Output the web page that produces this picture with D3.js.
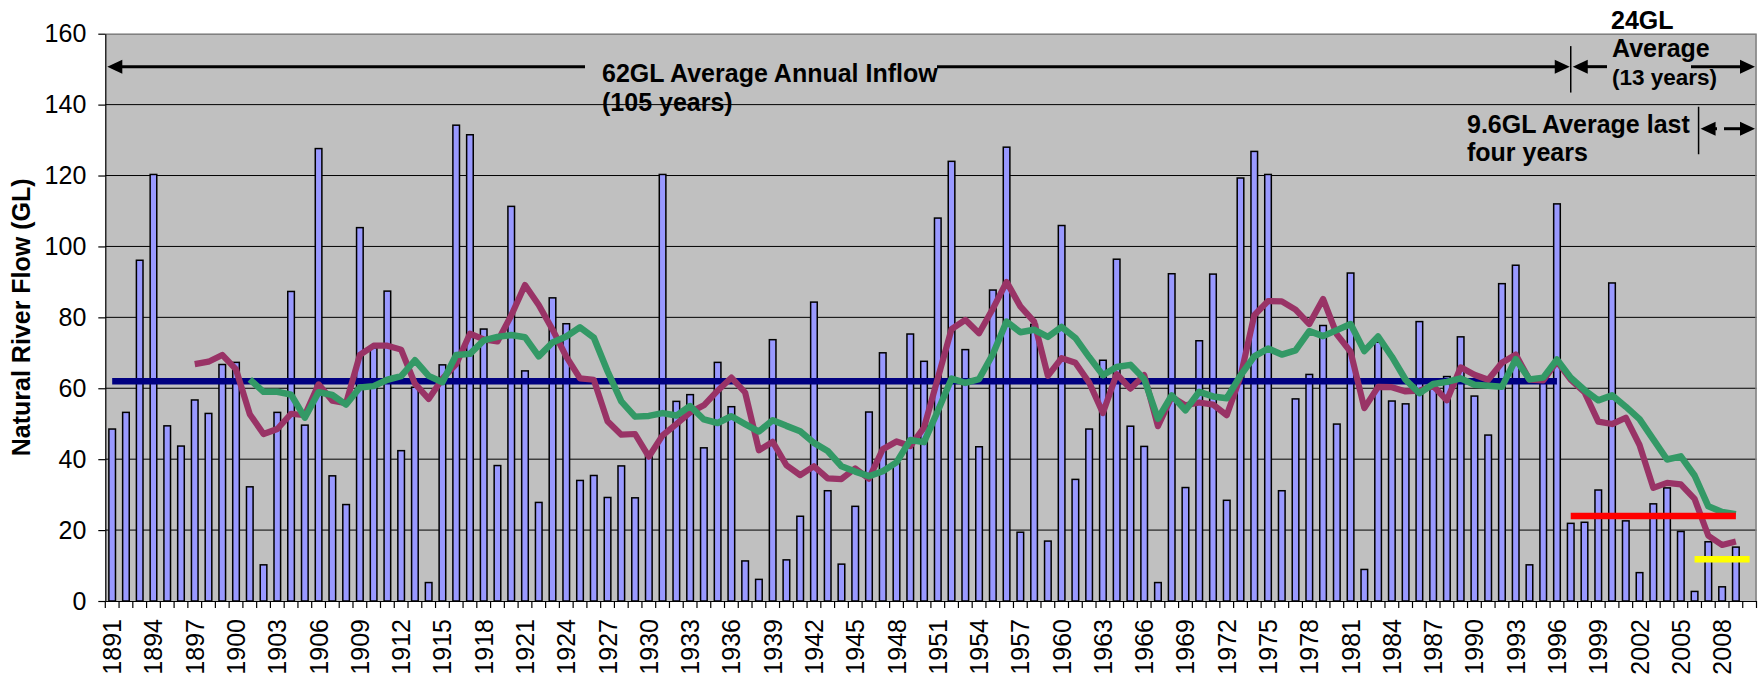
<!DOCTYPE html>
<html>
<head>
<meta charset="utf-8">
<script src="https://cdn.jsdelivr.net/npm/d3@7"></script>
<style>
  body { margin: 0; background: #fff; }
  svg { display: block; font-family: "Liberation Sans", Arial, sans-serif; }
</style>
</head>
<body>
<svg width="1762" height="676"></svg>
<script>

// categories: one slot per year, 2010 is an empty slot at the end
var firstYear = 1891, lastYear = 2010;
var years = d3.range(firstYear, lastYear + 1);

var tickYears = [1891, 1894, 1897, 1900, 1903, 1906, 1909, 1912, 1915, 1918,
                 1921, 1924, 1927, 1930, 1933, 1936, 1939, 1942, 1945, 1948,
                 1951, 1954, 1957, 1960, 1963, 1966, 1969, 1972, 1975, 1978,
                 1981, 1984, 1987, 1990, 1993, 1996, 1999, 2002, 2005, 2008];
var yTicks = [0, 20, 40, 60, 80, 100, 120, 140, 160];

// annual natural river flow (GL), 1891 - 2009
var flowStart = 1891;
var flow = [
  48.5, 53.2, 96.1, 120.3, 49.4, 43.7, 56.7, 52.9, 66.7, 67.3,
  32.2, 10.2, 53.2, 87.3, 49.6, 127.6, 35.3, 27.2, 105.3, 71.4,
  87.4, 42.4, 60.3, 5.2, 66.6, 134.2, 131.5, 76.7, 38.2, 111.3,
  64.9, 27.8, 85.5, 78.2, 34.0, 35.4, 29.2, 38.1, 29.1, 40.9,
  120.3, 56.3, 58.2, 43.2, 67.3, 54.8, 11.3, 6.1, 73.7, 11.6,
  23.9, 84.3, 31.1, 10.4, 26.7, 53.3, 70.0, 39.0, 75.3, 67.6,
  108.0, 124.0, 70.9, 43.5, 87.7, 128.0, 19.4, 78.0, 16.9, 105.9,
  34.3, 48.5, 67.9, 96.4, 49.3, 43.6, 5.2, 92.3, 32.0, 73.4,
  92.2, 28.4, 119.3, 126.8, 120.3, 31.1, 57.0, 63.9, 77.7, 49.9,
  92.5, 8.9, 73.0, 56.4, 55.6, 78.8, 60.0, 63.3, 74.5, 57.8,
  46.8, 89.5, 94.7, 10.2, 62.0, 112.0, 21.9, 22.2, 31.3, 89.7,
  22.6, 8.0, 27.4, 31.9, 19.6, 2.7, 16.7, 4.0, 15.2
];

// purple line (7 yr), 1897 - 2009
var ma7Start = 1897;
var ma7 = [
  66.8, 67.5, 69.4, 65.3,
  52.7, 47.1, 48.5, 52.8, 52.4, 61.1, 56.5, 55.8, 69.4, 72.0,
  72.0, 70.9, 61.3, 57.0, 62.7, 66.8, 75.4, 73.8, 73.2, 80.5,
  89.1, 83.5, 76.6, 68.9, 62.8, 62.4, 50.7, 46.9, 47.1, 40.7,
  46.7, 49.9, 53.2, 55.2, 59.3, 63.0, 58.8, 42.5, 44.9, 38.3,
  35.5, 38.0, 34.6, 34.4, 37.4, 34.5, 42.8, 45.0, 43.7, 48.9,
  62.8, 76.7, 79.3, 75.5, 82.4, 90.0, 83.1, 78.8, 63.5, 68.5,
  67.2, 61.6, 53.0, 64.0, 59.9, 63.7, 49.3, 57.6, 55.2, 56.0,
  55.4, 52.4, 63.3, 80.6, 84.6, 84.5, 82.2, 78.1, 85.2, 75.2,
  70.3, 54.4, 60.4, 60.3, 59.1, 59.3, 60.7, 56.6, 65.9, 63.8,
  62.4, 67.2, 69.5, 62.4, 62.2, 67.6, 62.4, 58.9, 50.6, 49.9,
  51.7, 44.0, 31.9, 33.3, 32.9, 28.8, 18.4, 15.8, 16.8
];

// green line (11 yr), 1901 - 2009
var ma11Start = 1901;
var ma11 = [
  62.5, 59.0, 59.0, 58.2, 51.7, 58.9, 58.1, 55.4, 60.2, 60.6,
  62.4, 63.4, 67.9, 63.5, 61.7, 69.4, 69.7, 73.5, 74.5, 75.0,
  74.4, 69.0, 72.9, 74.6, 77.2, 74.3, 64.8, 56.3, 52.0, 52.2,
  53.0, 52.3, 55.0, 51.2, 50.2, 52.1, 49.9, 47.8, 51.0, 49.4,
  47.9, 44.6, 42.3, 38.0, 36.5, 35.2, 36.6, 39.1, 45.4, 44.8,
  53.6, 62.7, 61.5, 62.6, 69.6, 78.8, 75.8, 76.5, 74.5, 77.3,
  74.2, 68.8, 63.7, 66.0, 66.6, 62.6, 51.4, 58.0, 53.8, 59.0,
  57.7, 57.2, 63.6, 69.0, 71.2, 69.5, 70.7, 76.1, 74.7, 76.4,
  78.1, 70.5, 74.6, 68.9, 62.4, 58.6, 61.2, 61.8, 62.8, 61.0,
  60.7, 60.4, 68.2, 62.5, 63.0, 68.1, 63.0, 59.5, 56.6, 58.0,
  54.8, 51.3, 45.6, 39.9, 40.8, 35.4, 26.7, 25.1, 24.5
];

// flat average lines: [year, value] end points
var longAvg = [[1891, 62], [1996, 62]];
var avg13 = [[1997, 24], [2009, 24]];
var avg4 = [[2006, 11.8], [2010, 11.8]];

function toPoints(start, arr) {
  return arr.map(function(v, i) { return [start + i, v]; });
}

var svg = d3.select("svg"),
    margin = {top: 33.7, right: 5.5, bottom: 75, left: 105.3},
    width = +svg.attr("width") - margin.left - margin.right,
    height = +svg.attr("height") - margin.top - margin.bottom,
    g = svg.append("g").attr("transform", "translate(" + margin.left + "," + margin.top + ")");

// set the ranges
var x = d3.scaleBand()
    .domain(years)
    .range([0, width])
    .paddingInner(0.52)
    .paddingOuter(0.26);

var y = d3.scaleLinear()
    .domain([0, 160])
    .range([height, 0]);

function xc(yr) { return x(yr) + x.bandwidth() / 2; }

// plot background
g.append("rect")
    .attr("width", width)
    .attr("height", height)
    .attr("fill", "#c0c0c0");

// gridlines
g.append("g")
  .selectAll("line")
  .data(yTicks.filter(function(d) { return d > 0 && d < 160; }))
  .enter().append("line")
    .attr("x1", 0)
    .attr("x2", width)
    .attr("y1", function(d) { return y(d); })
    .attr("y2", function(d) { return y(d); })
    .attr("stroke", "#000")
    .attr("stroke-width", 1);

// border top/right
g.append("path")
    .attr("d", "M0,0.5H" + (width - 0.5) + "V" + height)
    .attr("fill", "none")
    .attr("stroke", "#808080")
    .attr("stroke-width", 1.5);

// bars
g.append("g")
  .selectAll("rect")
  .data(toPoints(flowStart, flow))
  .enter().append("rect")
    .attr("x", function(d) { return x(d[0]); })
    .attr("y", function(d) { return y(d[1]); })
    .attr("width", x.bandwidth())
    .attr("height", function(d) { return height - y(d[1]); })
    .attr("fill", "#9999ff")
    .attr("stroke", "#000")
    .attr("stroke-width", 1.5);

// define the line
var line = d3.line()
    .x(function(d) { return xc(d[0]); })
    .y(function(d) { return y(d[1]); });

function drawLine(data, color, w) {
  g.append("path")
    .datum(data)
    .attr("fill", "none")
    .attr("stroke", color)
    .attr("stroke-linejoin", "round")
    .attr("stroke-width", w)
    .attr("d", line);
}

drawLine(longAvg, "#000080", 6.5);
drawLine(toPoints(ma7Start, ma7), "#993366", 6.2);
drawLine(toPoints(ma11Start, ma11), "#339966", 6.5);
drawLine(avg13, "#ff0000", 6.5);
drawLine(avg4, "#ffff00", 6.5);

// Add the Y Axis
var yAxis = g.append("g")
    .call(d3.axisLeft(y).tickValues(yTicks).tickSize(7).tickSizeOuter(0).tickPadding(12));
yAxis.select(".domain").attr("stroke", "#000").attr("stroke-width", 1.2);
yAxis.selectAll("line").attr("stroke", "#000").attr("stroke-width", 1.2);
yAxis.selectAll("text")
    .attr("font-size", 25)
    .attr("font-family", "Liberation Sans, Arial, sans-serif")
    .attr("fill", "#000");

// Add the X Axis
var xAxis = g.append("g")
    .attr("transform", "translate(0," + height + ")")
    .call(d3.axisBottom(x).tickValues(tickYears).tickSize(0).tickSizeOuter(0));
xAxis.select(".domain").attr("stroke", "#000").attr("stroke-width", 1.2);
xAxis.selectAll("text")
    .attr("font-size", 25)
    .attr("font-family", "Liberation Sans, Arial, sans-serif")
    .attr("fill", "#000")
    .attr("transform", "rotate(-90)")
    .attr("text-anchor", "end")
    .attr("x", -18)
    .attr("y", 0)
    .attr("dy", "0.36em");

// tick marks between categories
var bounds = years.map(function(yr) { return x(yr) - x.step() * x.paddingInner() / 2; });
bounds.push(width);
xAxis.append("g")
  .selectAll("line")
  .data(bounds)
  .enter().append("line")
    .attr("x1", function(d) { return d; })
    .attr("x2", function(d) { return d; })
    .attr("y1", 0)
    .attr("y2", 7)
    .attr("stroke", "#000")
    .attr("stroke-width", 1.2);

// y axis title
svg.append("text")
    .attr("transform", "translate(29.5," + (margin.top + height / 2) + ") rotate(-90)")
    .attr("text-anchor", "middle")
    .attr("font-size", 25)
    .attr("font-weight", "bold")
    .text("Natural River Flow (GL)");

// annotations
function arrow(x1, x2, yy, headAt) {
  // headAt: "start", "end"
  svg.append("line")
    .attr("x1", headAt === "start" ? x1 + 10 : x1)
    .attr("x2", headAt === "end" ? x2 - 10 : x2)
    .attr("y1", yy).attr("y2", yy)
    .attr("stroke", "#000")
    .attr("stroke-width", 3);
  var tip = headAt === "start" ? x1 : x2,
      dir = headAt === "start" ? 1 : -1;
  svg.append("path")
    .attr("d", "M" + tip + "," + yy + "L" + (tip + dir * 15) + "," + (yy - 7) +
               "L" + (tip + dir * 15) + "," + (yy + 7) + "Z")
    .attr("fill", "#000");
}

function vline(xx, y1, y2) {
  svg.append("line")
    .attr("x1", xx).attr("x2", xx)
    .attr("y1", y1).attr("y2", y2)
    .attr("stroke", "#000")
    .attr("stroke-width", 1.5);
}

var ax = margin.left, ay = margin.top;
var arrowY1 = ay + y(150.7), arrowY2 = ay + y(133.2);
var split13 = ax + xc(1997), split4 = ax + xc(2006) + 4;

arrow(ax + 2, 585, arrowY1, "start");
arrow(937, split13 - 1, arrowY1, "end");
vline(split13, ay + y(156.5), ay + y(143.4));
arrow(split13 + 2, 1607, arrowY1, "start");
arrow(1691, 1755, arrowY1, "end");

vline(split4, ay + y(139.4), ay + y(126));
arrow(split4 + 2, 1717, arrowY2, "start");
arrow(1724, 1755, arrowY2, "end");

function label(txt, xx, yy, size) {
  svg.append("text")
    .attr("x", xx)
    .attr("y", yy)
    .attr("font-size", size)
    .attr("font-weight", "bold")
    .attr("fill", "#000")
    .text(txt);
}

label("62GL Average Annual Inflow", 602, 82, 25);
label("(105 years)", 602, 111, 25);
label("24GL", 1611, 29, 25);
label("Average", 1612, 57, 25);
label("(13 years)", 1612, 85, 22.5);
label("9.6GL Average last", 1467, 132.5, 25);
label("four years", 1467, 160.5, 25);

</script>
</body>
</html>
